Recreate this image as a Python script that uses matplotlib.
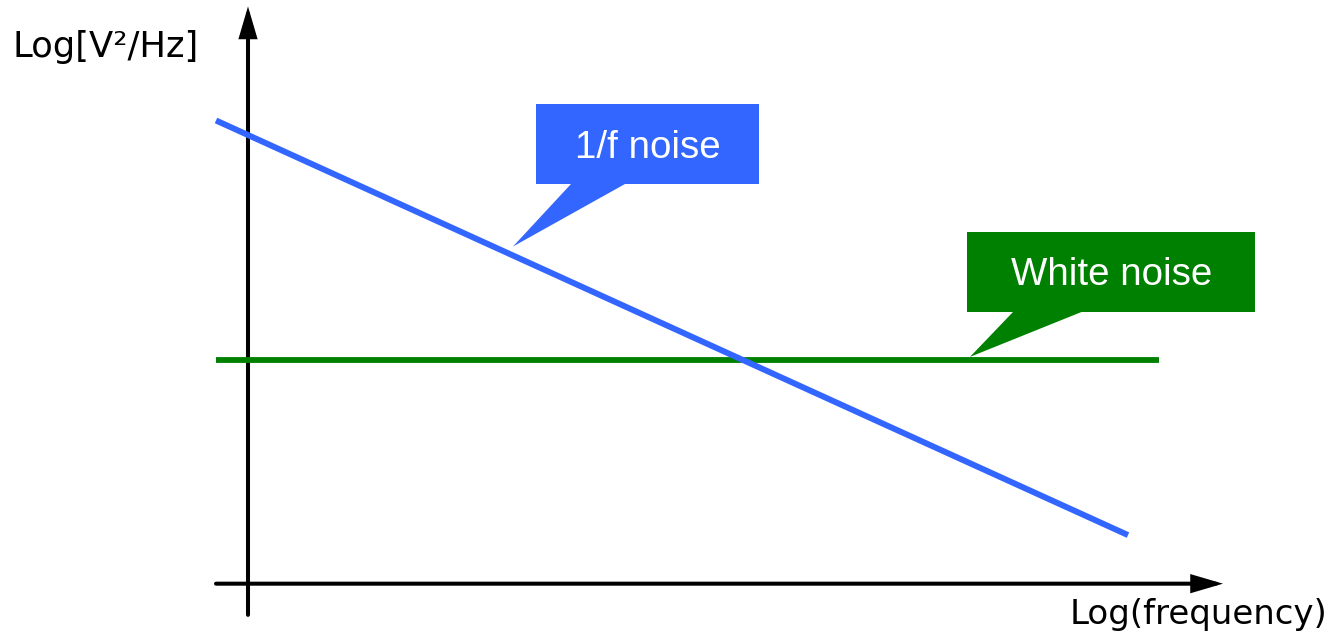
import numpy as np
import matplotlib.pyplot as plt
from matplotlib.patches import Rectangle, Polygon

# noise spectra, both axes in log units
log_freq = [-0.32, 8.80]
flicker_psd = [7.72, 0.81]
white_freq = [-0.32, 9.11]
white_psd = [3.73, 3.73]

BLUE = '#3366ff'
GREEN = '#008000'


def callout(text, box_x, box_y, base_x, tip, color):
    # speech-bubble label: box plus a triangular tail pointing at the curve
    x0, x1 = box_x
    y0, y1 = box_y
    ax.add_patch(Polygon([(base_x[0], y0 + 0.03), (base_x[1], y0 + 0.03), tip],
                         closed=True, facecolor=color, edgecolor='none', zorder=1))
    ax.add_patch(Rectangle((x0, y0), x1 - x0, y1 - y0,
                           facecolor=color, edgecolor='none', zorder=1))
    ax.text((x0 + x1) / 2, y0 + 0.44, text, color='white', fontsize=27.7,
            family='Liberation Sans', ha='center', va='baseline', zorder=2)


fig = plt.figure(figsize=(13.37, 6.42), dpi=100)
ax = fig.add_axes([0, 0, 1, 1])
ax.set_xlim(-2.48, 10.89)
ax.set_ylim(-0.972, 9.728)
ax.axis('off')

# hand-drawn style axes with arrow heads
arrow = dict(arrowstyle='-|>,head_length=17,head_width=5', mutation_scale=1,
             lw=2.9, color='black', shrinkA=0, shrinkB=0, joinstyle='miter')
ax.annotate('', xy=(9.75, 0), xytext=(-0.32, 0), arrowprops=arrow)
ax.annotate('', xy=(0, 9.62), xytext=(0, -0.52), arrowprops=arrow)

ax.plot(white_freq, white_psd, color=GREEN, lw=4.2, solid_capstyle='butt', zorder=3)
ax.plot(log_freq, flicker_psd, color=BLUE, lw=4.3, solid_capstyle='butt', zorder=4)

tip_x = 2.65
callout('1/f noise', (2.877, 5.113), (6.662, 7.995), (3.247, 3.803),
        (tip_x, np.interp(tip_x, log_freq, flicker_psd) + 0.15), BLUE)
tip_x = 7.22
callout('White noise', (7.193, 10.07), (4.533, 5.862), (7.67, 8.387),
        (tip_x, np.interp(tip_x, white_freq, white_psd) + 0.05), GREEN)

ax.text(-2.36, 8.78, 'Log[V²/Hz]', fontsize=25.5, family='DejaVu Sans', va='baseline')
ax.text(8.22, -0.672, 'Log(frequency)', fontsize=24.5, family='DejaVu Sans', va='baseline')

fig.savefig('out.png', dpi=100)
